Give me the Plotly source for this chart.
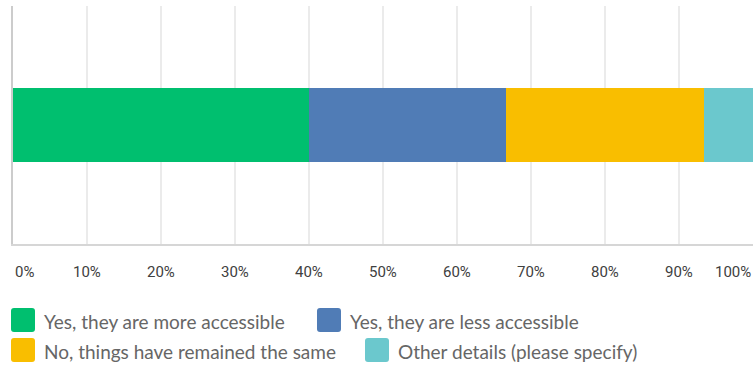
import plotly.graph_objects as go

# Survey answer shares (percent of respondents)
answers = [
    "Yes, they are more accessible",
    "Yes, they are less accessible",
    "No, things have remained the same",
    "Other details (please specify)",
]
shares = [40.0, 26.67, 26.67, 6.67]
colors = ["#00BF6F", "#507CB6", "#F9BE00", "#6BC8CD"]
tick_values = [0, 10, 20, 30, 40, 50, 60, 70, 80, 90, 100]
tick_labels = [f"{v}%" for v in tick_values]

W, H = 753, 365
ML, MR, MT, MB = 13, 0, 6, 121
PW, PH = W - ML - MR, H - MT - MB


def px_x(x):
    return (x - ML) / PW


def px_y(y):
    return (H - MB - y) / PH


fig = go.Figure()
for name, share, color in zip(answers, shares, colors):
    fig.add_trace(go.Bar(
        x=[share], y=["Q"], orientation="h", name=name,
        marker=dict(color=color, line=dict(width=0)),
        showlegend=False,
    ))

# Percent labels under the axis: the outer ones are pinned inside the frame
annotations = []
for i, (v, t) in enumerate(zip(tick_values, tick_labels)):
    anchor = "left" if i == 0 else ("right" if i == len(tick_values) - 1 else "center")
    annotations.append(dict(
        x=v, xref="x", y=0, yref="paper", yanchor="middle", yshift=-28,
        text=t, showarrow=False, xanchor=anchor,
        font=dict(family="Roboto", size=15, color="#404040"),
    ))

# Legend: two flowing rows of rounded swatches with labels
legend_rows = [[(0, 11), (1, 317)], [(2, 11), (3, 365)]]
row_y = [320, 350]
size, r = 24, 3
shapes = []
for row, yc in zip(legend_rows, row_y):
    for idx, xs in row:
        x0, x1 = xs, xs + size
        y0, y1 = yc - size / 2, yc + size / 2
        pts = [
            ("M", x0 + r, y0), ("L", x1 - r, y0), ("Q", x1, y0, x1, y0 + r),
            ("L", x1, y1 - r), ("Q", x1, y1, x1 - r, y1),
            ("L", x0 + r, y1), ("Q", x0, y1, x0, y1 - r),
            ("L", x0, y0 + r), ("Q", x0, y0, x0 + r, y0),
        ]
        path = ""
        for p in pts:
            coords = p[1:]
            pairs = [f"{px_x(coords[k]):.5f},{px_y(coords[k + 1]):.5f}" for k in range(0, len(coords), 2)]
            path += p[0] + " ".join(pairs) + " "
        shapes.append(dict(
            type="path", xref="paper", yref="paper", path=path + "Z",
            fillcolor=colors[idx], line=dict(width=0), layer="above",
        ))
        annotations.append(dict(
            x=px_x(x1 + 7), xref="paper", y=px_y(yc + 1), yref="paper",
            xanchor="left", yanchor="middle", showarrow=False, text=answers[idx],
            font=dict(family="Lato", size=19, color="#666666"),
        ))

fig.update_layout(
    width=W, height=H,
    margin=dict(l=ML, r=MR, t=MT, b=MB),
    barmode="stack", bargap=0.69,
    plot_bgcolor="white", paper_bgcolor="white",
    showlegend=False,
    xaxis=dict(
        range=[0, 100], tickvals=tick_values, showticklabels=False,
        showgrid=True, gridcolor="#EBEBEB", gridwidth=1.5, zeroline=False,
        showline=True, linecolor="#D6D6D6", linewidth=2, ticks="",
    ),
    yaxis=dict(
        showticklabels=False, showgrid=False, zeroline=False,
        showline=True, linecolor="#CCCCCC", linewidth=1.5, ticks="",
    ),
    annotations=annotations,
    shapes=shapes,
)

fig.write_html("out.html")
